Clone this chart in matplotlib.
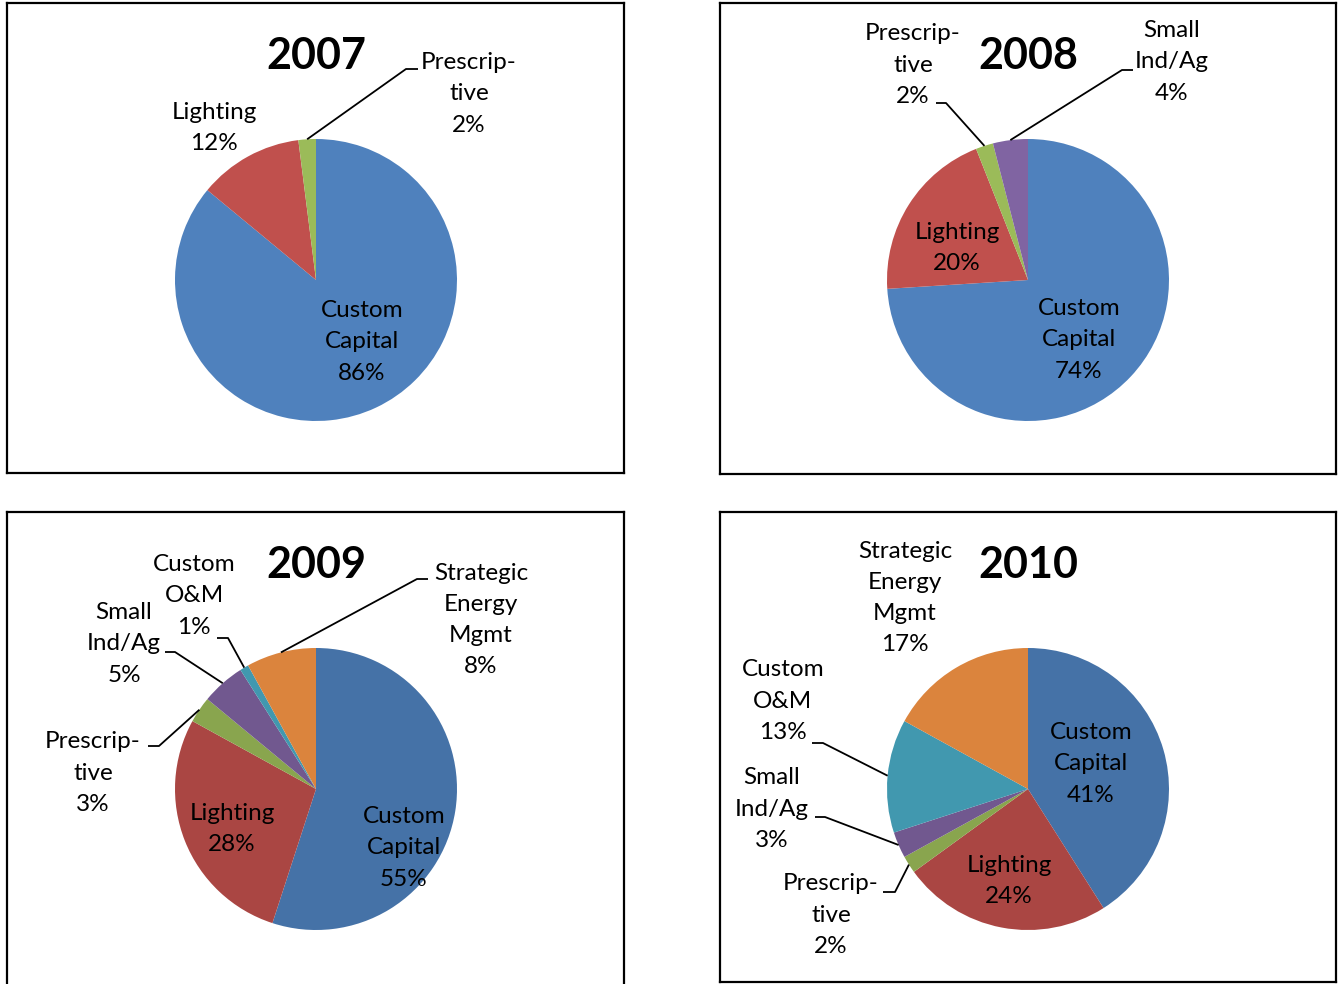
import numpy as np
import matplotlib
matplotlib.use("Agg")
import matplotlib.pyplot as plt

plt.rcParams["font.family"] = ["Lato", "DejaVu Sans"]

# program shares (%) per year, in slice order clockwise from 12 o'clock
names = ["Custom\nCapital", "Lighting", "Prescrip-\ntive", "Small\nInd/Ag",
         "Custom\nO&M", "Strategic\nEnergy\nMgmt"]
years = ["2007", "2008", "2009", "2010"]
shares_2007 = [86, 12, 2]
shares_2008 = [74, 20, 2, 4]
shares_2009 = [55, 28, 3, 5, 1, 8]
shares_2010 = [41, 24, 2, 3, 13, 17]

colors_old = ["#4F81BD", "#C0504D", "#9BBB59", "#8064A2"]
colors_new = ["#4572A7", "#AA4643", "#89A54E", "#71588F", "#4198AF", "#DB843D"]

W, H = 1338, 984
R = 141

# panel box (x0, y0, x1, y1) in pixels from top-left, pie centre, palette
panels = {
    "2007": dict(box=(7, 3, 624, 473), c=(316, 280), vals=shares_2007, pal=colors_old),
    "2008": dict(box=(720, 3, 1336, 474), c=(1028, 280), vals=shares_2008, pal=colors_old),
    "2009": dict(box=(7, 512, 624, 995), c=(316, 789), vals=shares_2009, pal=colors_new),
    "2010": dict(box=(720, 512, 1336, 982), c=(1028, 789), vals=shares_2010, pal=colors_new),
}

# label placement: slice index -> (text dx, dy, leader text-side point, elbow point)
# offsets in pixels from the pie centre, y pointing up
label_pos = {
    "2007": {0: ((46, -62), None, None),
             1: ((-102, 152), None, None),
             2: ((153, 186), (102, 211), (90, 211))},
    "2008": {0: ((51, -60), None, None),
             1: ((-71, 32), None, None),
             2: ((-115, 215), (-92, 177), (-82, 177)),
             3: ((144, 218), (105, 210), (94, 210))},
    "2009": {0: ((88, -59), None, None),
             1: ((-84, -40), None, None),
             2: ((-223, 16), (-168, 43), (-157, 43)),
             3: ((-192, 145), (-151, 137), (-141, 137)),
             4: ((-122, 193), (-99, 151), (-88, 151)),
             5: ((165, 169), (112, 210), (101, 210))},
    "2010": {0: ((63, 25), None, None),
             1: ((-19, -92), None, None),
             2: ((-197, -126), (-145, -103), (-133, -103)),
             3: ((-256, -20), (-213, -28), (-203, -28)),
             4: ((-245, 88), (-216, 46), (-205, 46)),
             5: ((-123, 191), None, None)},
}

fig = plt.figure(figsize=(W / 100, H / 100), dpi=100)
fig.patch.set_facecolor("white")

for year in years:
    p = panels[year]
    x0, y0, x1, y1 = p["box"]
    w, h = x1 - x0, y1 - y0
    ax = fig.add_axes([x0 / W, 1 - y1 / H, w / W, h / H])
    cx, cy = p["c"][0] - x0, y1 - p["c"][1]

    wedges, _ = ax.pie(p["vals"], colors=p["pal"], startangle=90,
                       counterclock=False, radius=R, center=(cx, cy),
                       wedgeprops=dict(linewidth=0))
    ax.set_xlim(0, w)
    ax.set_ylim(0, h)
    ax.set_aspect("auto")
    ax.set_frame_on(True)
    ax.set_xticks([])
    ax.set_yticks([])
    for s in ax.spines.values():
        s.set_linewidth(1.6)
        s.set_color("black")

    ax.text(cx, cy + 224, year, ha="center", va="center",
            fontsize=31, fontweight="bold")

    for i, v in enumerate(p["vals"]):
        (dx, dy), side, elbow = label_pos[year][i]
        ax.text(cx + dx, cy + dy, f"{names[i]}\n{v}%", ha="center",
                va="center", fontsize=17.5, linespacing=1.6)
        if side is not None:
            wdg = wedges[i]
            mid = np.deg2rad((wdg.theta1 + wdg.theta2) / 2)
            ex, ey = cx + R * np.cos(mid), cy + R * np.sin(mid)
            ax.plot([cx + side[0], cx + elbow[0], ex],
                    [cy + side[1], cy + elbow[1], ey],
                    color="black", lw=1.3, solid_capstyle="butt")

fig.savefig("out.png", dpi=100)
